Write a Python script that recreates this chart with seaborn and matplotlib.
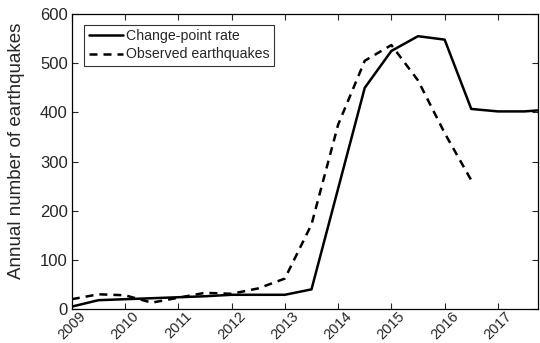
import numpy as np
import pandas as pd
import matplotlib
matplotlib.use("Agg")
import matplotlib.pyplot as plt
import matplotlib.transforms as mtransforms
import seaborn as sns

sns.set_style("white")
plt.rcParams['font.family'] = ['Liberation Sans', 'DejaVu Sans']

cp_years = [2009, 2009.5, 2010, 2010.5, 2011, 2011.5, 2012, 2012.5, 2013, 2013.5,
            2014.5, 2015, 2015.5, 2016, 2016.5, 2017, 2017.5, 2017.75]
cp_rate = [5, 18, 20, 22, 24, 26, 29, 29, 29, 40,
           450, 525, 555, 548, 407, 402, 402, 404]

obs_years = [2009, 2009.5, 2010, 2010.5, 2011, 2011.5, 2012, 2012.5, 2013, 2013.5,
             2014, 2014.5, 2015, 2015.5, 2016, 2016.5]
obs_count = [20, 30, 28, 13, 23, 33, 31, 42, 62, 172,
             375, 505, 537, 465, 358, 262]

year_ticks = list(range(2009, 2018))
y_ticks = [0, 100, 200, 300, 400, 500, 600]

df = pd.concat([
    pd.DataFrame({"year": cp_years, "value": cp_rate, "series": "Change-point rate"}),
    pd.DataFrame({"year": obs_years, "value": obs_count, "series": "Observed earthquakes"}),
])

fig = plt.figure(figsize=(5.4, 3.43), dpi=100)
ax = fig.add_axes([0.133, 0.099, 0.863, 0.860])

sns.lineplot(data=df, x="year", y="value", style="series", color="black",
             dashes={"Change-point rate": "", "Observed earthquakes": (3.2, 2.4)},
             linewidth=1.8, ax=ax, sort=False, estimator=None)

ax.set_xlim(2009, 2017.75)
ax.set_ylim(0, 600)
ax.set_xticks(year_ticks)
ax.set_xticklabels([str(y) for y in year_ticks], rotation=45, ha="center",
                   va="top", fontsize=10.5)
offset = mtransforms.ScaledTranslation(-5 / 100, 0, fig.dpi_scale_trans)
for lab in ax.get_xticklabels():
    lab.set_transform(lab.get_transform() + offset)
ax.set_yticks(y_ticks)
ax.set_yticklabels([str(v) for v in y_ticks], fontsize=12)
ax.set_xlabel("")
ax.set_ylabel("Annual number of earthquakes", fontsize=13.5)
ax.yaxis.set_label_coords(-0.101, 0.536)
ax.tick_params(direction="in", length=4, width=0.8, top=True, right=True,
               bottom=True, left=True)
ax.tick_params(axis="x", pad=0)
ax.tick_params(axis="y", pad=3)
for s in ax.spines.values():
    s.set_visible(True)
    s.set_color("black")
    s.set_linewidth(0.9)

leg = ax.legend(loc="upper left", bbox_to_anchor=(0.027, 0.963), fontsize=10.2,
                frameon=True, fancybox=False, edgecolor="black", handlelength=2.4,
                handletextpad=0.25, borderpad=0.3, labelspacing=0.3,
                borderaxespad=0)
leg.get_frame().set_linewidth(0.8)

fig.savefig("out.png", dpi=100)
